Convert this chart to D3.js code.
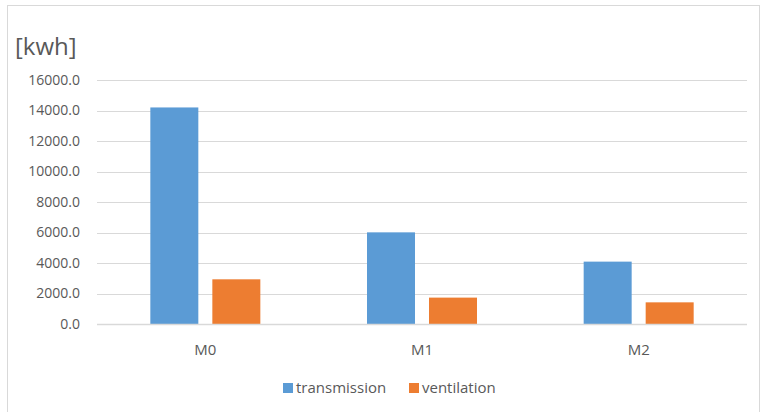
<!DOCTYPE html>
<html>
<head>
<meta charset="utf-8">
<script src="https://cdn.jsdelivr.net/npm/d3@7"></script>
<style>
  body { margin: 0; background: #fff; }
  svg { display: block; font-family: "Open Sans", sans-serif; }
</style>
</head>
<body>
<div id="chart"></div>
<script>
const categories = ["M0", "M1", "M2"];
const seriesNames = ["transmission", "ventilation"];
const transmission = [14200, 6010, 4090];
const ventilation = [2930, 1730, 1420];
const yTicks = [0, 2000, 4000, 6000, 8000, 10000, 12000, 14000, 16000];

const colors = ["#5B9BD5", "#ED7D31"];
const W = 767, H = 412;

const svg = d3.select("#chart")
  .append("svg")
  .attr("width", W)
  .attr("height", H);

// chart frame
svg.append("rect")
  .attr("x", 7.5).attr("y", 5.5)
  .attr("width", 752).attr("height", 410)
  .attr("fill", "#fff")
  .attr("stroke", "#D9D9D9");

const x = d3.scaleBand()
  .domain(categories)
  .range([97, 747]);

const y = d3.scaleLinear()
  .domain([0, 16000])
  .range([324, 80]);

const inner = d3.scaleBand()
  .domain(seriesNames)
  .range([x.bandwidth() / 2 - 55, x.bandwidth() / 2 + 55])
  .paddingInner(0.226);

// gridlines
svg.append("g")
  .selectAll("line")
  .data(yTicks)
  .join("line")
  .attr("x1", 97).attr("x2", 747)
  .attr("y1", d => Math.round(y(d)) + 0.5)
  .attr("y2", d => Math.round(y(d)) + 0.5)
  .attr("stroke", "#D9D9D9")
  .attr("stroke-width", 1);

// y axis labels
const yAxis = svg.append("g")
  .attr("transform", "translate(80,0)")
  .call(d3.axisLeft(y).tickValues(yTicks).tickSize(0).tickPadding(0)
    .tickFormat(d3.format(".1f")));
yAxis.select(".domain").remove();
yAxis.selectAll("text")
  .attr("fill", "#595959")
  .style("font-size", "14px")
  .style("font-family", "'Open Sans', sans-serif");

// bars
const groups = svg.append("g")
  .selectAll("g")
  .data(categories.map((c, i) => ({ c, vals: [transmission[i], ventilation[i]] })))
  .join("g")
  .attr("transform", d => `translate(${x(d.c)},0)`);

groups.selectAll("rect")
  .data(d => d.vals.map((v, j) => ({ name: seriesNames[j], v, j })))
  .join("rect")
  .attr("x", d => inner(d.name))
  .attr("width", inner.bandwidth())
  .attr("y", d => y(d.v))
  .attr("height", d => y(0) - y(d.v))
  .attr("fill", d => colors[d.j]);

// zero line on top
svg.append("line")
  .attr("x1", 97).attr("x2", 747)
  .attr("y1", 324.5).attr("y2", 324.5)
  .attr("stroke", "#D9D9D9")
  .attr("stroke-width", 1.5);

// x axis labels
const xAxis = svg.append("g")
  .attr("transform", "translate(0,340)")
  .call(d3.axisBottom(x).tickSize(0).tickPadding(4));
xAxis.select(".domain").remove();
xAxis.selectAll("text")
  .attr("fill", "#595959")
  .style("font-size", "15px")
  .style("font-family", "'Open Sans', sans-serif");

// unit title
svg.append("text")
  .attr("x", 15)
  .attr("y", 55)
  .attr("fill", "#595959")
  .style("font-size", "24px")
  .text("[kwh]");

// legend
const legendX = [283, 409];
const legend = svg.append("g");
seriesNames.forEach((n, i) => {
  legend.append("rect")
    .attr("x", legendX[i]).attr("y", 383)
    .attr("width", 10).attr("height", 10)
    .attr("fill", colors[i]);
  legend.append("text")
    .attr("x", legendX[i] + 13)
    .attr("y", 393)
    .attr("fill", "#595959")
    .style("font-size", "15px")
    .text(n);
});
</script>
</body>
</html>
